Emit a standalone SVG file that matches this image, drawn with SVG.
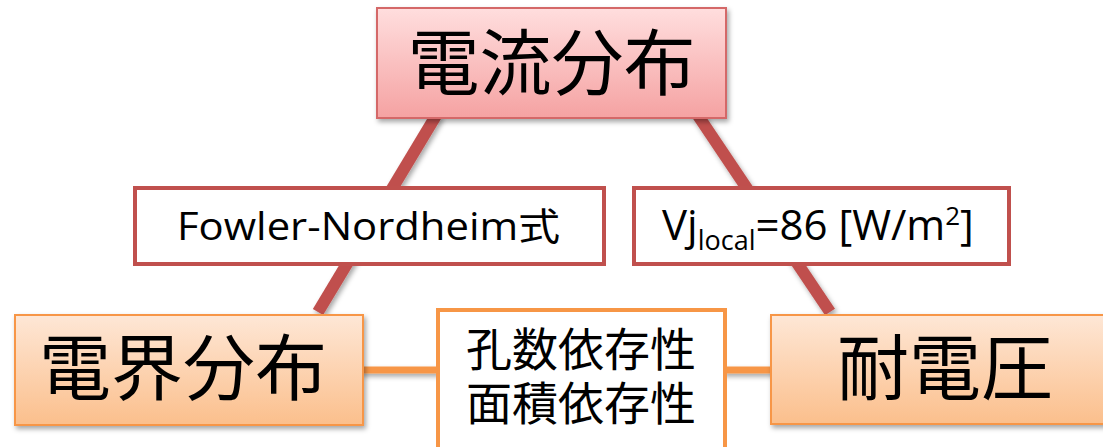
<svg xmlns="http://www.w3.org/2000/svg" width="1103" height="447" viewBox="0 0 1103 447">
<defs>
<linearGradient id="gRed" x1="0" y1="0" x2="0" y2="1">
<stop offset="0" stop-color="#ffdede"/>
<stop offset="1" stop-color="#f5a2a2"/>
</linearGradient>
<linearGradient id="gOr" x1="0" y1="0" x2="0" y2="1">
<stop offset="0" stop-color="#fee7d6"/>
<stop offset="1" stop-color="#fbbf8c"/>
</linearGradient>
<filter id="sh" filterUnits="userSpaceOnUse" x="0" y="0" width="1103" height="447">
<feDropShadow dx="2" dy="3" stdDeviation="2.5" flood-color="#000" flood-opacity="0.35"/>
</filter>
<style>
.jp{font-family:"Noto Sans CJK JP","Noto Sans",sans-serif;fill:#000;text-anchor:middle}
.lat{font-family:"Open Sans","Noto Sans","Noto Sans CJK JP",sans-serif;fill:#000}
.red{stroke:#c0504d;stroke-width:12;fill:none}
.or{stroke:#f79646;stroke-width:7;fill:none}
</style>
</defs>
<g id="connectors">
<line class="red" x1="437" y1="114" x2="318" y2="312" filter="url(#sh)"/>
<line class="red" x1="697" y1="114" x2="830" y2="312" filter="url(#sh)"/>
<line class="or" x1="360" y1="370" x2="440" y2="370" filter="url(#sh)"/>
<line class="or" x1="722" y1="370" x2="774" y2="370" filter="url(#sh)"/>
</g>
<g id="current">
<rect x="377" y="8" width="349" height="110" fill="url(#gRed)" stroke="#d46767" stroke-width="2" filter="url(#sh)"/>
<text class="jp" x="551.5" y="89" font-size="72">電流分布</text>
</g>
<g id="fn">
<rect x="135" y="188" width="469" height="76" fill="#fff" stroke="#c0504d" stroke-width="4"/>
<text class="lat" x="368.5" y="240" font-size="38" text-anchor="middle" textLength="383" lengthAdjust="spacingAndGlyphs">Fowler-Nordheim式</text>
</g>
<g id="vj">
<rect x="634" y="188" width="375" height="76" fill="#fff" stroke="#c0504d" stroke-width="4"/>
<text class="lat" x="662" y="240" font-size="42">Vj<tspan font-size="27" dy="10">local</tspan><tspan dy="-10">=86 [W/m</tspan><tspan font-size="26" dy="-15">2</tspan><tspan dy="15">]</tspan></text>
</g>
<g id="field">
<rect x="15" y="315" width="348" height="110" fill="url(#gOr)" stroke="#f79646" stroke-width="2" filter="url(#sh)"/>
<text class="jp" x="183" y="394" font-size="72">電界分布</text>
</g>
<g id="dep">
<rect x="438" y="310" width="287" height="150" fill="#fff" stroke="#f79646" stroke-width="4"/>
<text class="jp" font-size="46"><tspan x="581" y="366">孔数依存性</tspan><tspan x="581" y="420">面積依存性</tspan></text>
</g>
<g id="voltage">
<rect x="771" y="315" width="345" height="109" fill="url(#gOr)" stroke="#f79646" stroke-width="2" filter="url(#sh)"/>
<text class="jp" x="945" y="394" font-size="72">耐電圧</text>
</g>
</svg>
